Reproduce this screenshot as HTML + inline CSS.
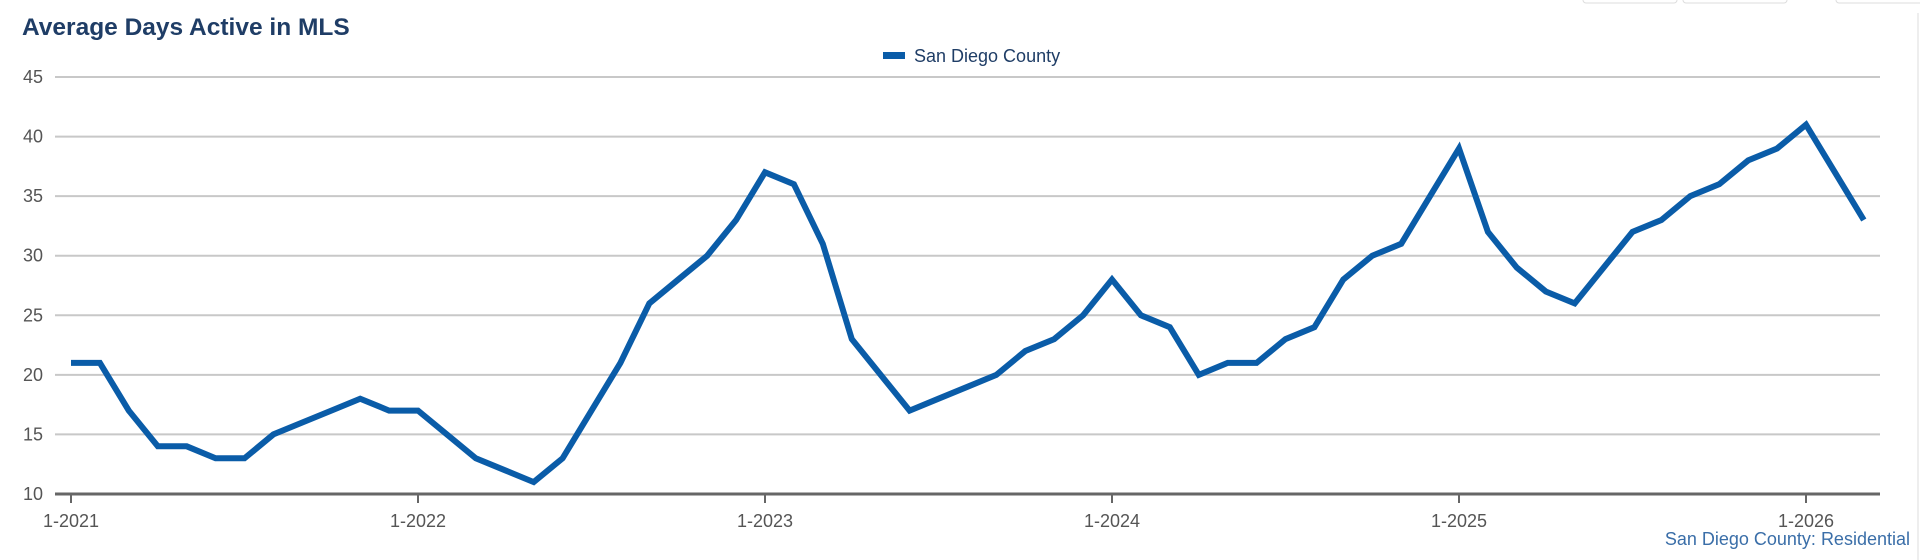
<!DOCTYPE html>
<html><head><meta charset="utf-8"><style>
body{margin:0;width:1920px;height:560px;background:#fff;overflow:hidden;font-family:"Liberation Sans",sans-serif}
</style></head><body>
<svg width="1920" height="560" style="position:absolute;left:0;top:0">
<rect x="1583" y="-6" width="94" height="9" rx="3" fill="#fff" stroke="#ddd"/>
<rect x="1683" y="-6" width="104" height="9" rx="3" fill="#fff" stroke="#ddd"/>
<rect x="1836" y="-6" width="90" height="9" rx="3" fill="#fff" stroke="#ddd"/>
<line x1="1918" y1="13" x2="1918" y2="560" stroke="#eee" stroke-width="2"/>
<text x="22" y="35" font-size="24.5" font-weight="bold" fill="#1f3d66">Average Days Active in MLS</text>
<g>
<rect x="883" y="52" width="22" height="7" fill="#0a5ca8"/>
<text x="914" y="62" font-size="18" fill="#1f3d66">San Diego County</text>
</g>
<g id="grid"></g><g id="xaxis"></g>
<polyline id="line" fill="none" stroke="#0a5ca8" stroke-width="6" stroke-linejoin="miter"/>
<text x="1910" y="545" font-size="18" fill="#3a6ea8" text-anchor="end">San Diego County: Residential</text>
</svg>
<script>
const yTicks=[10,15,20,25,30,35,40,45];
const xLabels=["1-2021","1-2022","1-2023","1-2024","1-2025","1-2026"];
const values=[21,21,17,14,14,13,13,15,16,17,18,17,
17,15,13,12,11,13,17,21,26,28,30,33,
37,36,31,23,20,17,18,19,20,22,23,25,
28,25,24,20,21,21,23,24,28,30,31,35,
39,32,29,27,26,29,32,33,35,36,38,39,
41,37,33];
const NS="http://www.w3.org/2000/svg";
const L=55,R=1880,x0=71,monthW=347/12;
const yS=v=>494-(v-10)*(494-77)/35;
const xS=i=>x0+i*monthW;
const g=document.getElementById('grid'),xa=document.getElementById('xaxis');
yTicks.forEach(t=>{
 const l=document.createElementNS(NS,'line');
 l.setAttribute('x1',L);l.setAttribute('x2',R);l.setAttribute('y1',yS(t));l.setAttribute('y2',yS(t));
 l.setAttribute('stroke',t==10?'#666':'#c8c8c8');l.setAttribute('stroke-width',t==10?3:2);
 
 
 g.appendChild(l);
 const tx=document.createElementNS(NS,'text');
 tx.setAttribute('x',43);tx.setAttribute('y',yS(t)+6);tx.setAttribute('text-anchor','end');
 tx.setAttribute('font-size','18');tx.setAttribute('fill','#555');tx.textContent=t;
 
 
 g.appendChild(tx);
});
xLabels.forEach((s,i)=>{
 const x=xS(i*12);
 const l=document.createElementNS(NS,'line');
 l.setAttribute('x1',x);l.setAttribute('x2',x);l.setAttribute('y1',494);l.setAttribute('y2',503);
 l.setAttribute('stroke','#666');l.setAttribute('stroke-width',2);
 
 
 xa.appendChild(l);
 const tx=document.createElementNS(NS,'text');
 tx.setAttribute('x',x);tx.setAttribute('y',527);tx.setAttribute('text-anchor','middle');
 tx.setAttribute('font-size','18');tx.setAttribute('fill','#555');tx.textContent=s;
 
 
 xa.appendChild(tx);
});
document.getElementById('line').setAttribute('points',values.map((v,i)=>xS(i).toFixed(1)+','+yS(v).toFixed(1)).join(' '));
</script>
</body></html>
